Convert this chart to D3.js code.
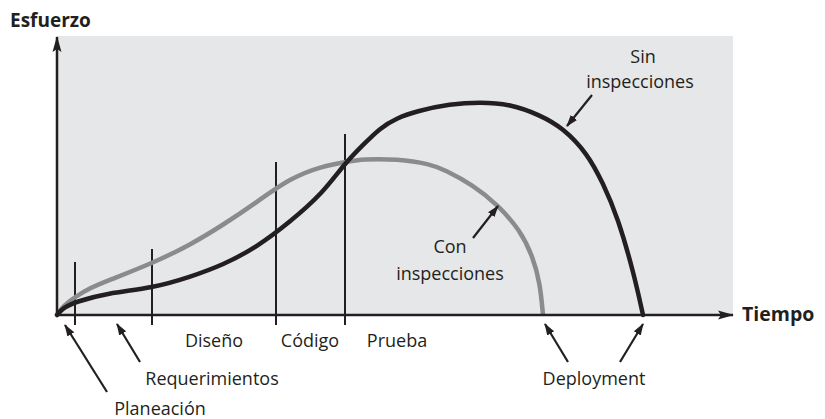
<!DOCTYPE html>
<html>
<head>
<meta charset="utf-8">
<script src="https://cdn.jsdelivr.net/npm/d3@7"></script>
<style>
  body { margin:0; background:#fff; }
  text { font-family: "Open Sans", "Noto Sans", sans-serif; fill:#231f20; }
</style>
</head>
<body>
<script>
// ---- data (time units across, effort units up) ----
var sinTime   = [0, 6, 18, 50, 96, 133, 166, 200, 233, 266, 288, 306, 323, 340, 360, 393, 423, 453, 483, 506, 530, 546, 561, 577, 586];
var sinEffort = [0, 7, 13, 22, 27, 38, 50, 68, 93, 122, 152, 170, 187, 197, 204, 211, 213, 211, 200, 187, 162, 132, 97, 41, 0];

var conTime   = [0, 6, 18, 33, 50, 96, 133, 166, 200, 233, 266, 288, 306, 340, 373, 388, 416, 441, 463, 476, 483, 486];
var conEffort = [0, 9, 18, 27, 34, 52, 70, 90, 113, 137, 149, 153, 156, 156, 151, 145, 130, 110, 85, 58, 32, 0];

var phaseTime   = [18, 95, 219, 288];       // phase boundaries
var phaseHeight = [53, 66, 153, 181];
var phaseNames  = ["Planeación", "Requerimientos", "Diseño", "Código", "Prueba", "Deployment"];

var W = 825, H = 419;
var svg = d3.select("body").append("svg").attr("width", W).attr("height", H);

var x = d3.scaleLinear().domain([0, 676]).range([57, 733]);
var y = d3.scaleLinear().domain([0, 278]).range([315, 37]);

// background panel
svg.append("rect")
   .attr("x", x(0)).attr("y", y(279))
   .attr("width", x(676) - x(0)).attr("height", y(0) - y(279))
   .attr("fill", "#e6e7e8");

var defs = svg.append("defs");
defs.append("marker").attr("id", "ah")
    .attr("viewBox", "0 0 12 10").attr("refX", 11).attr("refY", 5)
    .attr("markerWidth", 12).attr("markerHeight", 10)
    .attr("markerUnits", "userSpaceOnUse").attr("orient", "auto")
  .append("path").attr("d", "M0,1 L12,5 L0,9 Z").attr("fill", "#231f20");
defs.append("marker").attr("id", "axh")
    .attr("viewBox", "0 0 16 10").attr("refX", 15).attr("refY", 5)
    .attr("markerWidth", 16).attr("markerHeight", 10)
    .attr("markerUnits", "userSpaceOnUse").attr("orient", "auto")
  .append("path").attr("d", "M0,0.5 L16,5 L0,9.5 L3,5 Z").attr("fill", "#231f20");

// phase lines
svg.selectAll("line.phase")
   .data(phaseTime)
   .enter()
     .append("line")
     .attr("class", "phase")
     .attr("x1", function(d){ return x(d); })
     .attr("x2", function(d){ return x(d); })
     .attr("y1", function(d,i){ return y(phaseHeight[i]); })
     .attr("y2", y(-10))
     .attr("stroke", "#231f20").attr("stroke-width", 2);

// curves
var line = d3.line()
   .x(function(d){ return x(d[0]); })
   .y(function(d){ return y(d[1]); })
   .curve(d3.curveBasis);

svg.append("path")
   .datum(conTime.map(function(t,i){ return [t, conEffort[i]]; }))
   .attr("d", line).attr("fill", "none")
   .attr("stroke", "#8a8b8d").attr("stroke-width", 4.5);

svg.append("path")
   .datum(sinTime.map(function(t,i){ return [t, sinEffort[i]]; }))
   .attr("d", line).attr("fill", "none")
   .attr("stroke", "#231f20").attr("stroke-width", 4.5)
   .attr("stroke-linecap", "round");

// axes
svg.append("line")
   .attr("x1", x(0)).attr("y1", y(0)).attr("x2", x(676)).attr("y2", y(0))
   .attr("stroke", "#231f20").attr("stroke-width", 2.5).attr("marker-end", "url(#axh)");
svg.append("line")
   .attr("x1", x(0)).attr("y1", y(0)).attr("x2", x(0)).attr("y2", y(278))
   .attr("stroke", "#231f20").attr("stroke-width", 2.5).attr("marker-end", "url(#axh)");

svg.append("text").attr("x", 10).attr("y", 27)
   .attr("font-size", 19).attr("font-weight", "bold").text("Esfuerzo");
svg.append("text").attr("x", 742).attr("y", 321)
   .attr("font-size", 19.5).attr("font-weight", "bold").text("Tiempo");

// phase labels
function label(t, yy, str, anchor) {
  svg.append("text").attr("x", t).attr("y", yy)
     .attr("font-size", 18).attr("text-anchor", anchor || "start").text(str);
}
function arrow(x1, y1, x2, y2) {
  svg.append("line").attr("x1", x1).attr("y1", y1).attr("x2", x2).attr("y2", y2)
     .attr("stroke", "#231f20").attr("stroke-width", 2.2).attr("marker-end", "url(#ah)");
}

label(160, 415, phaseNames[0], "middle");
arrow(107, 392, x(8), y(-10));
label(212, 385, phaseNames[1], "middle");
arrow(140, 362, x(60), y(-9));
label(214, 347, phaseNames[2], "middle");
label(310, 347, phaseNames[3], "middle");
label(397, 347, phaseNames[4], "middle");
label(594, 385, phaseNames[5], "middle");
arrow(568, 362, x(488), y(-9));
arrow(620, 362, x(586), y(-9));

// curve labels
label(450, 253, "Con", "middle");
label(450, 280, "inspecciones", "middle");
arrow(473, 238, 498, 206);
label(643, 63, "Sin", "middle");
label(640, 88, "inspecciones", "middle");
arrow(592, 95, 567, 126);
</script>
</body>
</html>
